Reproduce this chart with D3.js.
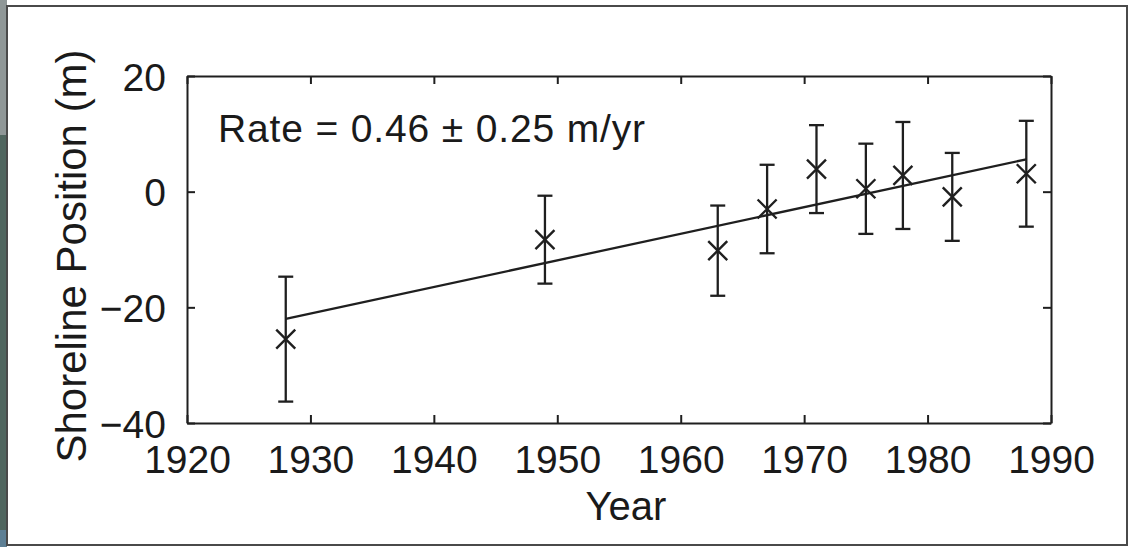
<!DOCTYPE html>
<html>
<head>
<meta charset="utf-8">
<script src="https://cdn.jsdelivr.net/npm/d3@7"></script>
<style>
  html, body { margin: 0; padding: 0; background: #fff; }
  svg { display: block; }
  text { font-family: "Liberation Sans", Arial, Helvetica, sans-serif; fill: #1a1a1a; }
</style>
</head>
<body>
<svg id="chart" width="1129" height="547"></svg>
<script>
// Survey years and measured shoreline positions (m) with their uncertainties
const years     = [1928, 1949, 1963, 1967, 1971, 1975, 1978, 1982, 1988];
const positions = [-25.5, -8.3, -10.2, -3.0, 3.9, 0.5, 2.8, -0.9, 3.1];
const errors    = [10.8, 7.6, 7.8, 7.65, 7.6, 7.8, 9.25, 7.6, 9.15];

// Linear trend: rate (m/yr) and its value at the first survey year
const rate = 0.46;
const rateError = 0.25;
const trendStart = -22.0;

const xTicks = [1920, 1930, 1940, 1950, 1960, 1970, 1980, 1990];
const yTicks = [-40, -20, 0, 20];

const svg = d3.select("#chart");

// Page background strip along the left edge and the figure frame
svg.append("rect").attr("x", 0).attr("y", 0).attr("width", 7).attr("height", 135).attr("fill", "#8f9797");
svg.append("rect").attr("x", 0).attr("y", 135).attr("width", 7).attr("height", 395).attr("fill", "#50665f");
svg.append("rect").attr("x", 0).attr("y", 530).attr("width", 7).attr("height", 17).attr("fill", "#5d7f94");
svg.append("rect")
  .attr("x", 7).attr("y", 6).attr("width", 1120).attr("height", 539)
  .attr("fill", "#fff").attr("stroke", "#4a4a4a").attr("stroke-width", 2);

const plot = { left: 187, right: 1051, top: 76, bottom: 423 };

const x = d3.scaleLinear().domain([1920, 1990]).range([plot.left, plot.right]);
const y = d3.scaleLinear().domain([-40, 20]).range([plot.bottom, plot.top]);

const ink = "#1f1f1f";
const tickLen = 8;

// Box axes with inward ticks on all four sides
const g = svg.append("g");

const bottomAxis = d3.axisBottom(x).tickValues(xTicks).tickFormat(d3.format("d"))
  .tickSizeInner(-tickLen).tickSizeOuter(0).tickPadding(22);
const topAxis = d3.axisTop(x).tickValues(xTicks).tickFormat("")
  .tickSizeInner(-tickLen).tickSizeOuter(0);
const leftAxis = d3.axisLeft(y).tickValues(yTicks).tickFormat(d => d < 0 ? "\u2212" + Math.abs(d) : d)
  .tickSizeInner(-tickLen).tickSizeOuter(0).tickPadding(21);
const rightAxis = d3.axisRight(y).tickValues(yTicks).tickFormat("")
  .tickSizeInner(-tickLen).tickSizeOuter(0);

function styleAxis(sel) {
  sel.select(".domain").attr("stroke", ink).attr("stroke-width", 2);
  sel.selectAll(".tick line").attr("stroke", ink).attr("stroke-width", 2);
  sel.selectAll(".tick text").attr("font-size", 39).attr("fill", "#1a1a1a")
    .attr("font-family", "'Liberation Sans', Arial, Helvetica, sans-serif");
}

g.append("g").attr("transform", `translate(0,${plot.bottom})`).call(bottomAxis).call(styleAxis)
  .selectAll(".tick text").attr("dy", "0.71em");
g.append("g").attr("transform", `translate(0,${plot.top})`).call(topAxis).call(styleAxis);
g.append("g").attr("transform", `translate(${plot.left},0)`).call(leftAxis).call(styleAxis)
  .selectAll(".tick text").attr("dy", "0.36em");
g.append("g").attr("transform", `translate(${plot.right},0)`).call(rightAxis).call(styleAxis);

// Error bars
const capHalf = 7.5;
const bars = svg.append("g").attr("stroke", ink).attr("stroke-width", 2.3).attr("fill", "none");
years.forEach((yr, i) => {
  const cx = x(yr);
  const hi = y(positions[i] + errors[i]);
  const lo = y(positions[i] - errors[i]);
  bars.append("line").attr("x1", cx).attr("x2", cx).attr("y1", hi).attr("y2", lo);
  bars.append("line").attr("x1", cx - capHalf).attr("x2", cx + capHalf).attr("y1", hi).attr("y2", hi);
  bars.append("line").attr("x1", cx - capHalf).attr("x2", cx + capHalf).attr("y1", lo).attr("y2", lo);
});

// Trend line across the survey period
const firstYear = d3.min(years), lastYear = d3.max(years);
const trend = [firstYear, lastYear].map(yr => [yr, trendStart + rate * (yr - firstYear)]);
svg.append("path")
  .datum(trend)
  .attr("d", d3.line().x(d => x(d[0])).y(d => y(d[1])))
  .attr("stroke", ink).attr("stroke-width", 2.3).attr("fill", "none");

// Cross markers
const m = 9.5;
const marks = svg.append("g").attr("stroke", ink).attr("stroke-width", 2.4).attr("fill", "none");
years.forEach((yr, i) => {
  const cx = x(yr), cy = y(positions[i]);
  marks.append("path").attr("d", `M${cx - m},${cy - m}L${cx + m},${cy + m}M${cx - m},${cy + m}L${cx + m},${cy - m}`);
});

// Rate annotation
svg.append("text")
  .attr("x", 218).attr("y", 142)
  .attr("font-size", 39)
  .attr("textLength", 427).attr("lengthAdjust", "spacing")
  .text(`Rate = ${rate.toFixed(2)} \u00B1 ${rateError.toFixed(2)} m/yr`);

// Axis titles
svg.append("text")
  .attr("x", 626).attr("y", 520)
  .attr("text-anchor", "middle")
  .attr("font-size", 40)
  .text("Year");

svg.append("text")
  .attr("transform", "translate(86,256) rotate(-90)")
  .attr("text-anchor", "middle")
  .attr("font-size", 42)
  .text("Shoreline Position (m)");
</script>
</body>
</html>
